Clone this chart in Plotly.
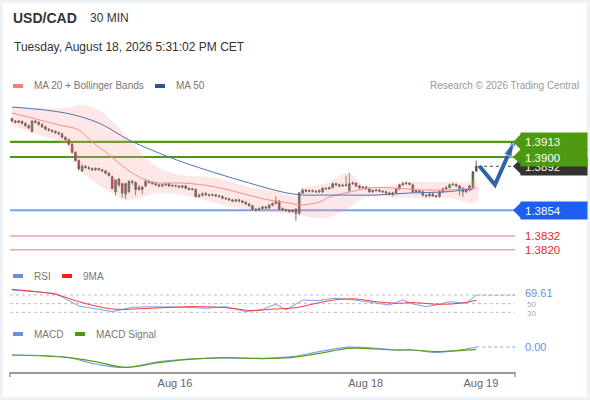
import plotly.graph_objects as go

# ---- data (prices in pips above 1.3800) ----
opens = [133, 131, 130, 131, 129, 127, 122, 131, 130, 128,
         126, 124, 123, 122, 121, 120, 117, 115, 111, 104,
         97, 88, 92, 91, 90, 89, 90, 89, 88, 86,
         83, 70, 81, 77, 68, 70, 79, 78, 72, 74,
         75, 79, 78, 77, 76, 75, 76, 77, 75, 75.5,
         75, 74, 75, 73, 72, 72, 66, 67, 68.5, 67.5,
         67, 67.5, 66.5, 66, 64.5, 64, 63, 62, 63, 62,
         61, 59.5, 58, 55, 54.5, 55.5, 57, 56, 58.5, 60,
         62, 55.5, 54.5, 54, 53, 55, 51.5, 69, 71.5, 70.5,
         71, 70.5, 70, 70, 73, 72.5, 73.5, 77, 76, 75,
         75.5, 71, 77, 77.5, 75, 73.5, 74, 72.5, 70, 71,
         71.5, 70.5, 70, 69, 68, 69, 72.5, 76, 77, 77.5,
         76, 70, 71, 70, 67, 66.5, 68, 66.5, 66, 70,
         72.5, 73.5, 76, 76.5, 75, 73, 70, 71.5, 74, 88]
highs = [134, 132, 132, 131, 130, 128, 132, 132, 131, 129,
         127, 125, 124, 123, 122, 121, 118, 116, 112, 105,
         98, 94, 93, 92, 91, 91, 91, 90, 89, 87,
         84, 81, 82, 78, 78, 80, 80, 79, 76, 75,
         81, 80, 79, 78, 77, 77, 78, 78, 76.5, 76,
         75.5, 76, 76, 74, 73.5, 73, 68.5, 70, 70, 68.5,
         68.5, 68, 67.5, 67, 65.5, 65, 64, 64, 64, 63,
         62, 60.5, 59, 56, 56.5, 58, 58, 59.5, 61, 66,
         63, 56.5, 55.5, 55, 55, 56, 70, 73, 72.5, 72,
         72, 71.5, 72, 74, 74, 74.5, 78, 78, 77, 77,
         84, 86, 79, 78, 76, 75, 75, 73.5, 72, 72.5,
         72.5, 71.5, 71, 70, 70, 73.5, 77, 78.5, 79, 78,
         77, 72, 72, 71, 68, 69, 69, 67.5, 71, 73.5,
         75, 77, 78, 77, 76, 74, 72.5, 76, 88, 97]
lows = [130, 129, 129, 128, 126, 124, 121, 129, 127, 125,
        123, 122, 121, 120, 119, 116, 114, 110, 103, 96,
        88, 87, 90, 89, 88, 88, 88, 87, 85, 83,
        72, 67, 74, 65, 64, 69, 76, 67, 71, 68,
        74, 77, 76, 75, 74, 74, 75, 74, 74, 74,
        73, 73, 72, 71, 71, 65, 65, 66, 66.5, 66,
        66, 65.5, 65, 63.5, 63, 62, 61, 61, 61, 60,
        58.5, 57, 54, 53, 53.5, 54.5, 55, 55, 57.5, 59,
        54, 53.5, 53, 52, 52, 45, 50, 68, 69.5, 69.5,
        69.5, 69, 69, 69, 71.5, 72, 73, 75, 74, 74,
        74.5, 70, 76, 74, 72.5, 72.5, 71.5, 69, 69, 70,
        69.5, 69, 68, 67, 66, 68, 71.5, 75, 76, 75.5,
        69, 69, 69, 66, 65, 65.5, 65.5, 64.5, 65, 69,
        72, 73, 75, 74, 67, 65.5, 69, 70.5, 73, 87]
closes = [131, 130, 131, 129, 127, 125, 131, 130, 128, 126,
          124, 123, 122, 121, 120, 117, 115, 111, 104, 97,
          90, 92, 91, 90, 89, 90, 89, 88, 86, 84,
          73, 80, 76, 69, 77, 79, 78, 72, 74, 72,
          79, 78, 77, 76, 75, 76, 77, 75, 75.5, 75,
          74, 75, 73, 72, 72.5, 66, 67, 68, 67.5, 67,
          67.5, 66.5, 66, 64.5, 64, 63, 62, 63, 62, 61,
          59.5, 58, 55, 54.5, 55.5, 57, 56, 58.5, 60, 62,
          55, 54.5, 54, 53, 54, 51.5, 69, 71.5, 70.5, 71,
          70.5, 70, 71, 73, 72.5, 73.5, 77, 76, 75, 75.5,
          76, 77, 77.5, 75, 73.5, 74, 72.5, 70, 71, 71.5,
          70.5, 70, 69, 68, 69, 72.5, 76, 77, 77.5, 76.5,
          70, 71, 70, 67, 66.5, 68, 66.5, 66, 70, 72.5,
          73.5, 76, 76.5, 75, 72.5, 70, 71.5, 75, 87, 92]

ma20_idx = [0, 6, 14, 20, 24, 28, 32, 36, 40, 44, 51, 61, 73, 77, 83, 86, 92, 95, 100, 107, 114, 122, 131, 139]
ma20 = [137.9, 133.6, 127.6, 123.3, 112.9, 104.3, 94.8, 86.2, 80.2, 77.6, 77.6, 74.1,
        65.5, 62.9, 60.3, 58.6, 61.2, 65.5, 69, 73.3, 73.3, 71.6, 71.6, 73.3]
ma50_idx = [0, 16, 26, 35, 44, 51, 61, 71, 81, 87, 92, 99, 109, 119, 129, 138]
ma50 = [143.1, 137.9, 129.3, 114.7, 103.4, 95.7, 86.2, 77.6, 69.8, 67.2, 67.2, 67.2, 67.2, 69, 69.8, 72.4]
upper_idx = [0, 16, 20, 24, 28, 32, 36, 40, 44, 51, 61, 71, 81, 85, 87, 92, 95, 100, 102, 106, 114, 119, 129, 136, 139]
upper = [143.1, 142.2, 144.8, 143.1, 136.2, 125, 112.9, 99.1, 90.5, 84.5, 81.9, 74.1, 69, 65.5,
         73.3, 75.9, 78.4, 86.2, 84.5, 74.1, 75.9, 78.4, 78.4, 78.4, 80.2]
lower_idx = [0, 6, 16, 21, 26, 31, 34, 38, 44, 51, 61, 71, 81, 86, 91, 95, 102, 106, 114, 122, 131, 139]
lower = [127.6, 120.7, 110.3, 87.1, 75.9, 67.2, 62.9, 64.7, 69, 67.2, 60.3, 54.3, 51.7, 50, 47.4,
         48.3, 58.6, 65.5, 65.5, 64.7, 64.7, 61.2]

forecast_idx = [140, 144.6, 150.2]
forecast = [92, 76, 112.5]

levels = [1.3913, 1.3900, 1.3854, 1.3832, 1.3820]
last_price = 1.3892

rsi_idx = [0, 13, 20, 30, 36, 41, 53, 58, 64, 70, 75, 79, 82, 87, 92, 96, 101, 106, 109, 113, 117, 120, 124, 127, 131, 136, 139]
rsi = [81.5, 73.8, 44.6, 31.5, 41.5, 43, 41.5, 39.2, 43, 31.5, 36.9, 49.2, 35.4, 58.5, 56.9, 62.3,
       60, 54.6, 52.3, 46.9, 58.5, 49.2, 43, 46.9, 54.6, 50.8, 69.61]
rsi9_idx = [0, 13, 20, 30, 41, 53, 64, 72, 77, 85, 92, 98, 103, 109, 115, 120, 128, 134, 139]
rsi9 = [83, 71.5, 54.6, 37.7, 39.2, 43, 40.8, 33.8, 36.9, 40.8, 52.3, 60, 60.8, 54.6, 50.8, 52.3, 48.5, 50.8, 57.7]

macd_idx = [0, 16, 25, 34, 44, 53, 64, 75, 84, 92, 101, 109, 115, 120, 127, 134, 139]
macd = [-4, -5, -8.5, -10.2, -7.3, -6, -5.5, -5.7, -4.8, -2.3, -0.1, -0.7, -1.5, -1.5, -2.7, -1.5, 0.0]
signal = [-4, -5.2, -7.3, -10.2, -7.8, -6.2, -5.3, -5.8, -5.2, -3.2, -0.7, -1, -1.5, -1.5, -2.3, -1.8, -1.2]

tick_idx = [48.8, 105.9, 140.4]
tick_labels = ["Aug 16", "Aug 18", "Aug 19"]


def price(p):
    return [1.38 + v / 10000 for v in p]


def px(x):
    return x / 590


def py(y):
    return 1 - y / 400


W, H = 590, 400
FONT = "Liberation Sans, Arial, sans-serif"
xr = [-0.6, 150.6]
xdom = [px(10), px(515)]

fig = go.Figure()

# bollinger band
fig.add_trace(go.Scatter(x=upper_idx + lower_idx[::-1], y=price(upper + lower[::-1]),
                         fill="toself", fillcolor="rgba(250,160,160,0.25)",
                         line=dict(width=0, shape="spline"), hoverinfo="skip"))
fig.add_trace(go.Scatter(x=ma20_idx, y=price(ma20), mode="lines",
                         line=dict(color="#ff8c8c", width=1, shape="spline")))
fig.add_trace(go.Scatter(x=ma50_idx, y=price(ma50), mode="lines",
                         line=dict(color="#4f74b5", width=1, shape="spline")))

fig.add_trace(go.Candlestick(x=list(range(len(closes))), open=price(opens), high=price(highs),
                             low=price(lows), close=price(closes),
                             increasing=dict(fillcolor="#3a8a1c", line=dict(color="#4a4a4a", width=0.8)),
                             decreasing=dict(fillcolor="#e5221c", line=dict(color="#4a4a4a", width=0.8)),
                             whiskerwidth=0))

# dotted last price
fig.add_trace(go.Scatter(x=[139.5, 150.6], y=[last_price, last_price], mode="lines",
                         line=dict(color="#444", width=1, dash="dot")))

# forecast arrow
fig.add_trace(go.Scatter(x=forecast_idx, y=price(forecast), mode="lines+markers",
                         line=dict(color="#2e63a6", width=4),
                         marker=dict(symbol="arrow", angleref="previous", size=[0, 0, 15],
                                     color="#2e63a6")))

# RSI
fig.add_trace(go.Scatter(x=rsi_idx, y=rsi, mode="lines", xaxis="x2", yaxis="y2",
                         line=dict(color="#7ea0ea", width=1)))
fig.add_trace(go.Scatter(x=rsi9_idx, y=rsi9, mode="lines", xaxis="x2", yaxis="y2",
                         line=dict(color="#f03c3c", width=1, shape="spline")))
fig.add_trace(go.Scatter(x=[139, 150.6], y=[rsi[-1], rsi[-1]], mode="lines", xaxis="x2", yaxis="y2",
                         line=dict(color="#7ea0ea", width=1, dash="dot")))

# MACD
fig.add_trace(go.Scatter(x=macd_idx, y=macd, mode="lines", xaxis="x3", yaxis="y3",
                         line=dict(color="#7ea0ea", width=1.2, shape="spline")))
fig.add_trace(go.Scatter(x=macd_idx, y=signal, mode="lines", xaxis="x3", yaxis="y3",
                         line=dict(color="#5a9e1e", width=1.2, shape="spline")))
fig.add_trace(go.Scatter(x=[139, 150.6], y=[macd[-1], macd[-1]], mode="lines", xaxis="x3", yaxis="y3",
                         line=dict(color="#7ea0ea", width=1, dash="dot")))

shapes = []
# frame
shapes.append(dict(type="rect", xref="paper", yref="paper", x0=px(3), x1=px(587), y0=py(397), y1=py(3),
                   fillcolor="white", line=dict(width=0), layer="below"))
# level lines
lvl_colors = ["#4d9a10", "#4d9a10", "#7aa0ee", "#f5a3a3", "#f5a3a3"]
lvl_widths = [2.2, 2.2, 2, 1.5, 1.5]
for lv, c, w in zip(levels, lvl_colors, lvl_widths):
    shapes.append(dict(type="line", xref="x domain", yref="y", x0=0, x1=1, y0=lv, y1=lv,
                       line=dict(color=c, width=w), layer="below"))

# pointer tips of the price tags
hh = 0.00068
def tip(p, color):
    return dict(type="path", xref="paper", yref="y", fillcolor=color, line=dict(width=0),
                path=f"M {px(513)},{p} L {px(521)},{p + hh} L {px(521)},{p - hh} Z")

shapes.append(tip(last_price, "#333333"))
shapes.append(tip(levels[0], "#4d9a10"))
shapes.append(tip(levels[1], "#4d9a10"))
shapes.append(tip(levels[2], "#1e5ef5"))

# rsi levels
for lv in [70, 50, 30]:
    shapes.append(dict(type="line", xref="x2 domain", yref="y2", x0=0, x1=1, y0=lv, y1=lv,
                       line=dict(color="#bbbbbb", width=1, dash="dot"), layer="below"))

# axis end brackets
for xx in [10, 515]:
    shapes.append(dict(type="line", xref="paper", yref="paper", x0=px(xx), x1=px(xx),
                       y0=py(372), y1=py(377), line=dict(color="#999", width=1.5)))

# legend swatches
for x0, y0, c in [(13, 86, "#ff7b7b"), (155, 86, "#2e5694"), (13, 276, "#6a8fe6"),
                  (62, 276, "#ff1a1a"), (13, 334, "#6a8fe6"), (75, 334, "#4c9a0a")]:
    shapes.append(dict(type="rect", xref="paper", yref="paper", x0=px(x0), x1=px(x0 + 10),
                       y0=py(y0 + 2), y1=py(y0 - 2), fillcolor=c, line=dict(width=0)))

ann = []

def txt(x, y, s, size=11, color="#777", anchor="left", bold=False, xref="paper", yref="paper", yshift=0):
    ann.append(dict(x=x, y=y, xref=xref, yref=yref, text=f"<b>{s}</b>" if bold else s,
                    showarrow=False, xanchor=anchor, yanchor="middle", yshift=yshift,
                    font=dict(size=size, color=color, family=FONT)))


def tag(p, s, color):
    ann.append(dict(x=px(520), y=p, xref="paper", yref="y", text=s, showarrow=False,
                    xanchor="left", yanchor="middle", align="left", width=58, height=9,
                    borderpad=4, bgcolor=color, font=dict(size=11.5, color="white", family=FONT)))


txt(px(11), py(18), "USD/CAD", 14, "#333", bold=True)
txt(px(88), py(18), "30 MIN", 12, "#333")
txt(px(12), py(47), "Tuesday, August 18, 2026 5:31:02 PM CET", 12, "#333")
txt(px(32), py(86), "MA 20 + Bollinger Bands", 10, "#777")
txt(px(174), py(86), "MA 50", 10, "#777")
txt(px(581), py(86), "Research © 2026 Trading Central", 10, "#999", anchor="right")
txt(px(32), py(276), "RSI", 10, "#777")
txt(px(81), py(276), "9MA", 10, "#777")
txt(px(32), py(334), "MACD", 10, "#777")
txt(px(94), py(334), "MACD Signal", 10, "#777")

tag(last_price, "1.3892", "#333333")
tag(levels[0], "1.3913", "#4d9a10")
tag(levels[1], "1.3900", "#4d9a10")
tag(levels[2], "1.3854", "#1e5ef5")
txt(px(523), levels[3], "1.3832", 11.5, "#f02828", yref="y")
txt(px(523), levels[4], "1.3820", 11.5, "#f02828", yref="y")

txt(px(525), 50, "50", 8, "#aaa", yref="y2", yshift=-1)
txt(px(525), 30, "30", 8, "#aaa", yref="y2", yshift=-1)
txt(px(523), rsi[-1], "69.61", 11, "#6a8fe6", yref="y2", yshift=2)
txt(px(523), macd[-1], "0.00", 11, "#6a8fe6", yref="y3")

fig.update_layout(
    width=W, height=H, margin=dict(l=0, r=0, t=0, b=0),
    paper_bgcolor="#eef2f6", plot_bgcolor="rgba(0,0,0,0)",
    showlegend=False, shapes=shapes, annotations=ann,
    font=dict(family=FONT),
    xaxis=dict(domain=xdom, range=xr, visible=False, rangeslider=dict(visible=False), anchor="y"),
    yaxis=dict(domain=[py(258), py(100)], range=[1.39 - (258 - 157) / 11600, 1.39 + (157 - 100) / 11600],
               visible=False, anchor="x"),
    xaxis2=dict(domain=xdom, range=xr, visible=False, anchor="y2"),
    yaxis2=dict(domain=[py(320), py(286)], range=[12.2, 90.8], visible=False, anchor="x2"),
    xaxis3=dict(domain=xdom, range=xr, anchor="y3", showline=True, linecolor="#999", linewidth=1.5,
                showgrid=False, zeroline=False, ticks="", tickvals=tick_idx, ticktext=tick_labels,
                tickfont=dict(size=11, color="#666", family=FONT)),
    yaxis3=dict(domain=[py(372), py(338)], range=[-12.5, 4.5], visible=False, anchor="x3"),
)

fig.write_html("out.html", config={"displayModeBar": False},
               post_script="document.body.style.margin='0';")
